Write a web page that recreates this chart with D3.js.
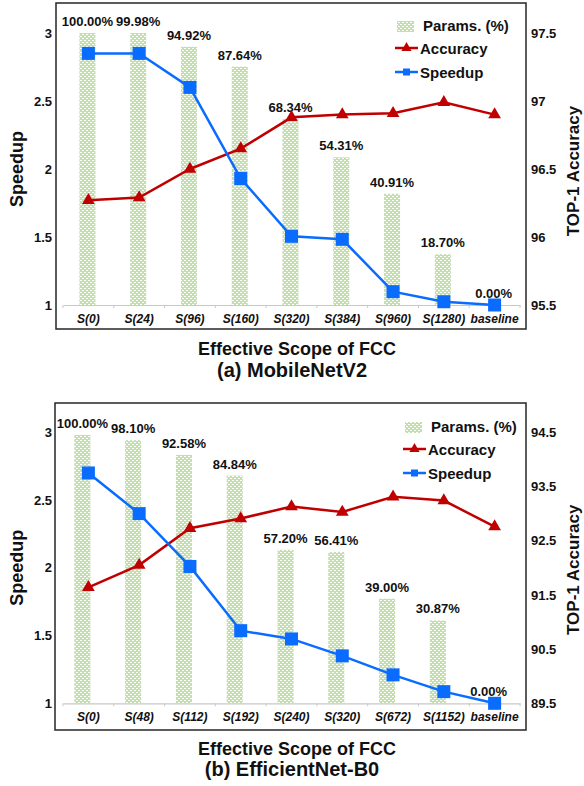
<!DOCTYPE html>
<html>
<head>
<meta charset="utf-8">
<script src="https://cdn.jsdelivr.net/npm/d3@7"></script>
<style>
  html, body { margin: 0; padding: 0; background: #fff; }
  svg { display: block; font-family: "Liberation Sans", Arial, Helvetica, sans-serif; }
</style>
</head>
<body>
<svg id="chart" width="584" height="786"></svg>
<script>
// ---- (a) MobileNetV2 ----
const mbnCategories = ["S(0)", "S(24)", "S(96)", "S(160)", "S(320)", "S(384)", "S(960)", "S(1280)", "baseline"];
const mbnParams     = [100.00, 99.98, 94.92, 87.64, 68.34, 54.31, 40.91, 18.70, 0.00];
const mbnSpeedup    = [2.85, 2.85, 2.60, 1.93, 1.505, 1.483, 1.098, 1.024, 1.00];
const mbnAccuracy   = [96.27, 96.29, 96.50, 96.65, 96.88, 96.90, 96.91, 96.99, 96.90];
const mbnAccTicks   = [95.5, 96, 96.5, 97, 97.5];

// ---- (b) EfficientNet-B0 ----
const effCategories = ["S(0)", "S(48)", "S(112)", "S(192)", "S(240)", "S(320)", "S(672)", "S(1152)", "baseline"];
const effParams     = [100.00, 98.10, 92.58, 84.84, 57.20, 56.41, 39.00, 30.87, 0.00];
const effSpeedup    = [2.70, 2.40, 2.01, 1.536, 1.475, 1.35, 1.21, 1.086, 1.00];
const effAccuracy   = [91.64, 92.05, 92.73, 92.91, 93.13, 93.03, 93.31, 93.24, 92.76];
const effAccTicks   = [89.5, 90.5, 91.5, 92.5, 93.5, 94.5];

const speedupTicks  = [1, 1.5, 2, 2.5, 3];
const legendLabels  = ["Params. (%)", "Accuracy", "Speedup"];

const RED = "#c00000";
const BLUE = "#0a6cff";

const svg = d3.select("#chart");

// dotted light-green fill for the parameter bars
const defs = svg.append("defs");
const pat = defs.append("pattern")
  .attr("id", "dots").attr("patternUnits", "userSpaceOnUse")
  .attr("width", 4).attr("height", 4);
pat.append("rect").attr("width", 4).attr("height", 4).attr("fill", "#c2dfac");
pat.append("rect").attr("x", 0).attr("y", 0).attr("width", 2).attr("height", 1).attr("fill", "#ffffff");
pat.append("rect").attr("x", 2).attr("y", 2).attr("width", 2).attr("height", 1).attr("fill", "#ffffff");

function drawPanel(cfg) {
  const g = svg.append("g");
  const { box, plotTop, plotBottom } = cfg;

  const x = d3.scaleBand().domain(cfg.categories).range([63, 520]).padding(0);
  const ySpeed = d3.scaleLinear().domain([1, 3]).range([plotBottom, plotTop]);
  const yAcc = d3.scaleLinear().domain(cfg.accDomain).range([plotBottom, plotTop]);
  const yPar = d3.scaleLinear().domain([0, cfg.paramsMax]).range([plotBottom, plotTop]);

  // frame
  g.append("rect")
    .attr("x", box.left).attr("y", box.top)
    .attr("width", box.right - box.left).attr("height", box.bottom - box.top)
    .attr("fill", "none").attr("stroke", "#262626").attr("stroke-width", 1.5);

  // category axis
  const xAxis = d3.axisBottom(x).tickSize(0).tickFormat("");
  const xg = g.append("g").attr("transform", `translate(0,${plotBottom})`).call(xAxis);
  xg.select(".domain").attr("stroke", "#c8c8c8").attr("stroke-width", 1.2);
  const bounds = x.domain().map(d => x(d)).concat([x.range()[1]]);
  xg.selectAll("line.sep").data(bounds).enter().append("line")
    .attr("class", "sep")
    .attr("x1", d => d).attr("x2", d => d).attr("y1", 0).attr("y2", 3)
    .attr("stroke", "#c8c8c8").attr("stroke-width", 1);

  g.selectAll("text.cat").data(cfg.categories).enter().append("text")
    .attr("class", "cat")
    .attr("x", d => x(d) + x.bandwidth() / 2)
    .attr("y", plotBottom + 18)
    .attr("text-anchor", "middle")
    .attr("font-size", 12).attr("font-weight", "bold").attr("font-style", "italic")
    .attr("fill", "#111")
    .text(d => d);

  // left axis (speedup) labels
  const leftAxis = d3.axisLeft(ySpeed).tickValues(speedupTicks).tickSize(0).tickPadding(0)
    .tickFormat(d3.format("~g"));
  const lg = g.append("g").attr("transform", `translate(52,0)`).call(leftAxis);
  lg.select(".domain").remove();
  lg.selectAll("text").attr("font-size", 13).attr("font-weight", "bold")
    .attr("fill", "#111").attr("font-family", null);

  // right axis (accuracy) labels
  const rightAxis = d3.axisRight(yAcc).tickValues(cfg.accTicks).tickSize(0).tickPadding(0)
    .tickFormat(d3.format("~g"));
  const rg = g.append("g").attr("transform", `translate(531,0)`).call(rightAxis);
  rg.select(".domain").remove();
  rg.selectAll("text").attr("font-size", 13).attr("font-weight", "bold")
    .attr("fill", "#111").attr("font-family", null);

  // axis titles
  const midY = (plotTop + plotBottom) / 2;
  g.append("text")
    .attr("transform", `translate(23,${midY}) rotate(-90)`)
    .attr("text-anchor", "middle")
    .attr("font-size", 18).attr("font-weight", "bold").attr("fill", "#111")
    .text("Speedup");
  g.append("text")
    .attr("transform", `translate(579,${midY + 2}) rotate(-90)`)
    .attr("text-anchor", "middle")
    .attr("font-size", 17).attr("font-weight", "bold").attr("fill", "#111")
    .text("TOP-1 Accuracy");
  g.append("text")
    .attr("x", 297).attr("y", cfg.xTitleY)
    .attr("text-anchor", "middle")
    .attr("font-size", 18).attr("font-weight", "bold").attr("fill", "#111")
    .text("Effective Scope of FCC");
  g.append("text")
    .attr("x", 292).attr("y", cfg.captionY)
    .attr("text-anchor", "middle")
    .attr("font-size", 20).attr("font-weight", "bold").attr("fill", "#111")
    .text(cfg.caption);

  // parameter bars
  const bw = 16;
  const rows = cfg.categories.map((c, i) => ({
    c, p: cfg.params[i], s: cfg.speedup[i], a: cfg.accuracy[i]
  }));
  const cx = d => x(d.c) + x.bandwidth() / 2;

  g.selectAll("rect.bar").data(rows).enter().append("rect")
    .attr("class", "bar")
    .attr("x", d => cx(d) + cfg.barShift - bw / 2)
    .attr("y", d => yPar(d.p))
    .attr("width", bw)
    .attr("height", d => yPar(0) - yPar(d.p))
    .attr("fill", "url(#dots)");

  g.selectAll("text.pct").data(rows).enter().append("text")
    .attr("class", "pct")
    .attr("x", d => cx(d) + cfg.barShift)
    .attr("y", d => yPar(d.p) - 7)
    .attr("text-anchor", "middle")
    .attr("font-size", 13).attr("font-weight", "bold").attr("fill", "#111")
    .text(d => d.p.toFixed(2) + "%");

  // accuracy line
  const accLine = d3.line().x(cx).y(d => yAcc(d.a));
  g.append("path").datum(rows)
    .attr("d", accLine).attr("fill", "none")
    .attr("stroke", RED).attr("stroke-width", 2.5);
  const tri = d3.symbol().type(d3.symbolTriangle).size(70);
  g.selectAll("path.tri").data(rows).enter().append("path")
    .attr("class", "tri")
    .attr("d", tri)
    .attr("transform", d => `translate(${cx(d)},${yAcc(d.a)})`)
    .attr("fill", RED);

  // speedup line
  const spLine = d3.line().x(cx).y(d => ySpeed(d.s));
  g.append("path").datum(rows)
    .attr("d", spLine).attr("fill", "none")
    .attr("stroke", BLUE).attr("stroke-width", 2.5);
  g.selectAll("rect.sq").data(rows).enter().append("rect")
    .attr("class", "sq")
    .attr("x", d => cx(d) - 6.5).attr("y", d => ySpeed(d.s) - 6.5)
    .attr("width", 13).attr("height", 13)
    .attr("fill", BLUE);

  // legend
  const L = cfg.legend;
  const lgG = g.append("g");
  lgG.append("rect")
    .attr("x", L.x + 2).attr("y", L.y - 4).attr("width", 17).attr("height", 11)
    .attr("fill", "url(#dots)");
  lgG.append("text").attr("x", L.x + 28).attr("y", L.y + 6)
    .attr("font-size", 15).attr("font-weight", "bold").attr("fill", "#111")
    .text(legendLabels[0]);

  const ay = L.y + 23;
  lgG.append("line").attr("x1", L.x).attr("x2", L.x + 23).attr("y1", ay).attr("y2", ay)
    .attr("stroke", RED).attr("stroke-width", 2.5);
  lgG.append("path").attr("d", d3.symbol().type(d3.symbolTriangle).size(45)())
    .attr("transform", `translate(${L.x + 11.5},${ay})`).attr("fill", RED);
  lgG.append("text").attr("x", L.x + 25).attr("y", ay + 5.5)
    .attr("font-size", 15).attr("font-weight", "bold").attr("fill", "#111")
    .text(legendLabels[1]);

  const sy = L.y + 47;
  lgG.append("line").attr("x1", L.x).attr("x2", L.x + 23).attr("y1", sy).attr("y2", sy)
    .attr("stroke", BLUE).attr("stroke-width", 2.5);
  lgG.append("rect").attr("x", L.x + 8).attr("y", sy - 3.5).attr("width", 7).attr("height", 7)
    .attr("fill", BLUE);
  lgG.append("text").attr("x", L.x + 25).attr("y", sy + 5.5)
    .attr("font-size", 15).attr("font-weight", "bold").attr("fill", "#111")
    .text(legendLabels[2]);
}

drawPanel({
  categories: mbnCategories, params: mbnParams, speedup: mbnSpeedup, accuracy: mbnAccuracy,
  accDomain: [95.5, 97.5], accTicks: mbnAccTicks, paramsMax: 100,
  box: { left: 56, top: 3, right: 526, bottom: 329 },
  plotTop: 33, plotBottom: 305, barShift: -1,
  xTitleY: 355, captionY: 377, caption: "(a) MobileNetV2",
  legend: { x: 395, y: 25 }
});

drawPanel({
  categories: effCategories, params: effParams, speedup: effSpeedup, accuracy: effAccuracy,
  accDomain: [89.5, 94.5], accTicks: effAccTicks, paramsMax: 101,
  box: { left: 55, top: 403, right: 526, bottom: 730 },
  plotTop: 432.3, plotBottom: 703.3, barShift: -6,
  xTitleY: 754.5, captionY: 776, caption: "(b) EfficientNet-B0",
  legend: { x: 403, y: 426 }
});
</script>
</body>
</html>
